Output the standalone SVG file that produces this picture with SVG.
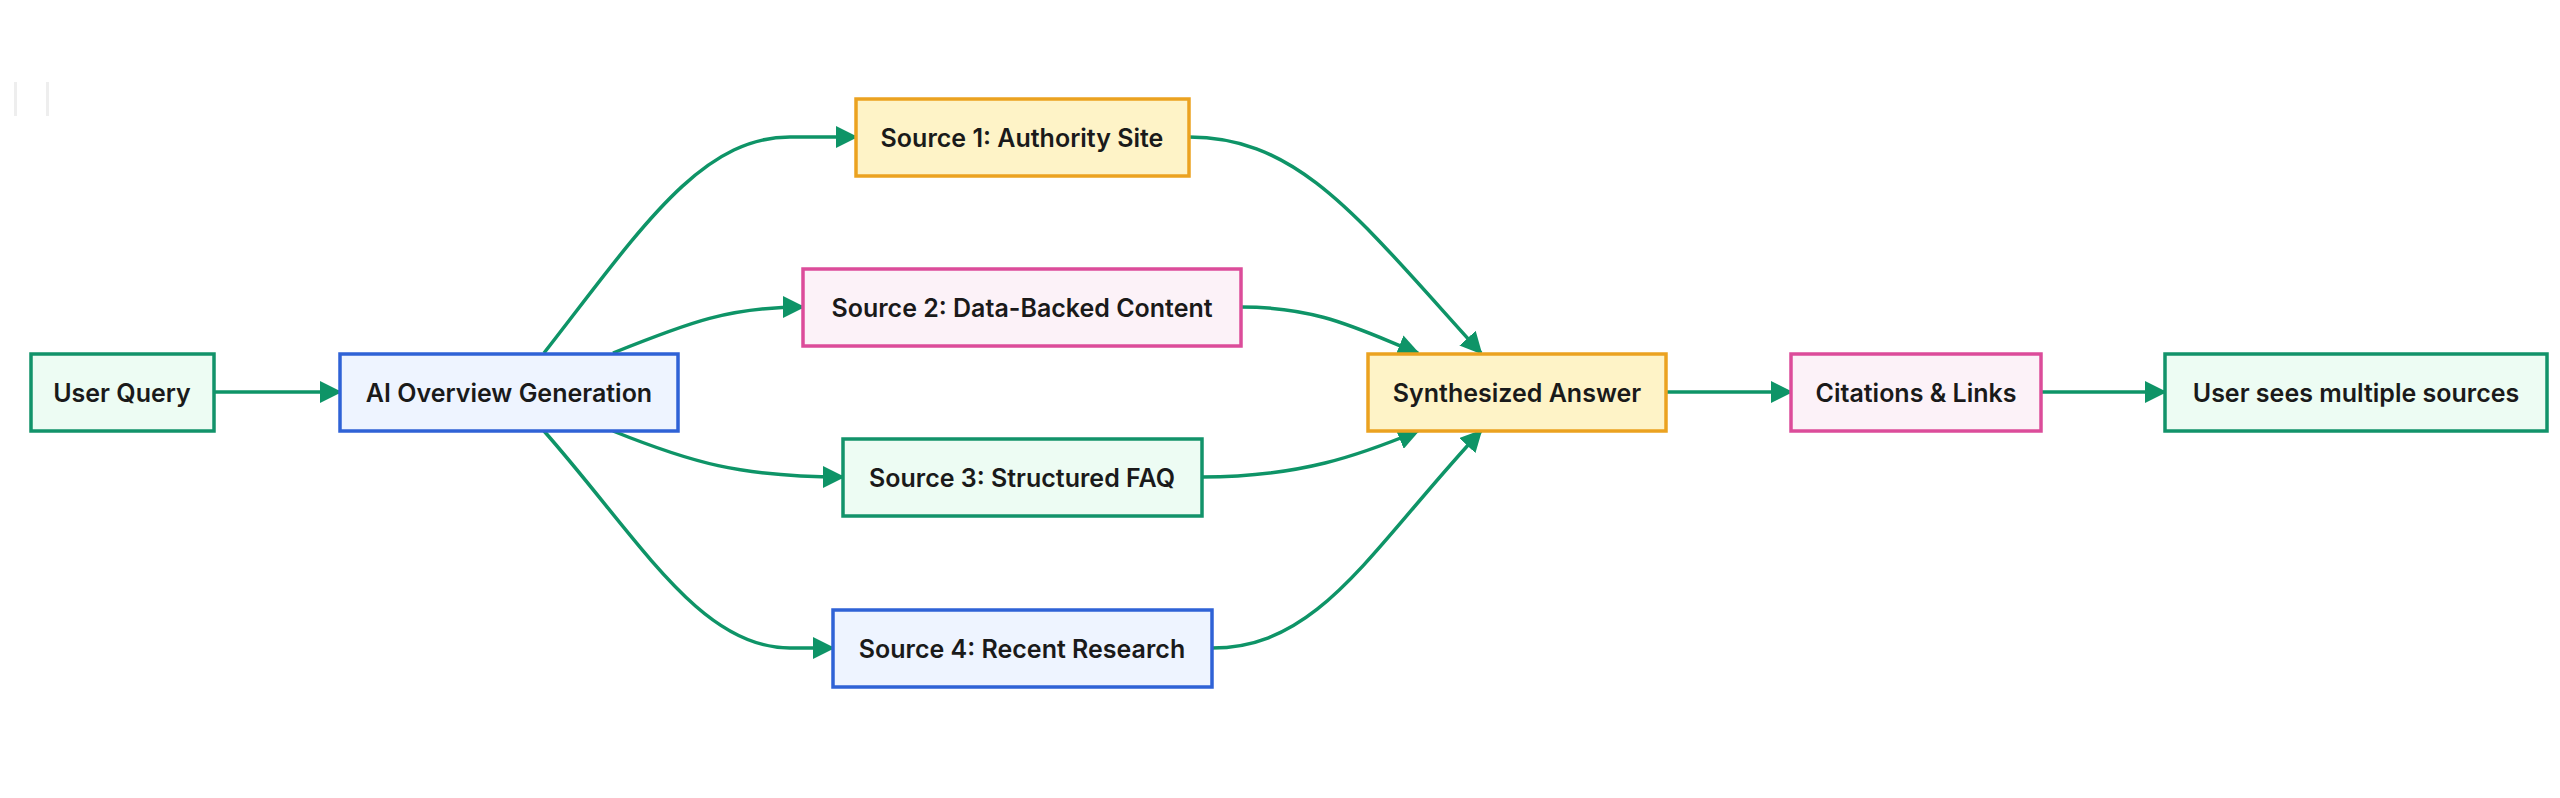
<svg xmlns="http://www.w3.org/2000/svg" width="2560" height="798" viewBox="0 0 2560 798">
<defs>
<marker id="ah" markerUnits="userSpaceOnUse" markerWidth="22" markerHeight="22" viewBox="0 0 22 22" refX="20" refY="11" orient="auto"><path d="M0,0 L22,11 L0,22 z" fill="#0e9467"/></marker>
<style>
.n rect{stroke-width:3.5}
.g rect{fill:#edfcf3;stroke:#12936a}
.b rect{fill:#eef4ff;stroke:#2f62d6}
.y rect{fill:#fef3c7;stroke:#eba220}
.p rect{fill:#fcf2f8;stroke:#dc4c9a}
.n text{font-family:Inter,"Liberation Sans",sans-serif;font-size:25px;font-weight:600;fill:#1a1a1a;text-anchor:middle;dominant-baseline:central}
#edges path{fill:none;stroke:#0e9467;stroke-width:3.5;marker-end:url(#ah)}
</style>
</defs>
<rect width="2560" height="798" fill="#fff"/>
<rect x="14" y="82" width="3" height="34" fill="#eeeeee"/>
<rect x="46" y="82" width="3" height="34" fill="#eeeeee"/>
<g id="edges">
<path d="M214,392 L340,392"/>
<path d="M544,353 C640,230 700,137 790,137 L856,137"/>
<path d="M613,353 C690,322 730,307 803,307"/>
<path d="M613,431 C690,462 740,477 843,477"/>
<path d="M544,431 C640,540 700,648 790,648 L833,648"/>
<path d="M1189,137 C1300,137 1360,220 1481,353"/>
<path d="M1241,307 C1320,307 1360,330 1418,353"/>
<path d="M1202,477 C1300,477 1360,455 1418,431"/>
<path d="M1212,648 C1320,648 1370,550 1481,431"/>
<path d="M1666,392 L1791,392"/>
<path d="M2041,392 L2165,392"/>
</g>
<g id="uq" class="n g"><rect x="31" y="354" width="183" height="77"/><text x="122" y="393">User Query</text></g>
<g id="ai" class="n b"><rect x="340" y="354" width="338" height="77"/><text x="509" y="393">AI Overview Generation</text></g>
<g id="s1" class="n y"><rect x="856" y="99" width="333" height="77"/><text x="1022" y="138">Source 1: Authority Site</text></g>
<g id="s2" class="n p"><rect x="803" y="269" width="438" height="77"/><text x="1022" y="308">Source 2: Data-Backed Content</text></g>
<g id="s3" class="n g"><rect x="843" y="439" width="359" height="77"/><text x="1022" y="478">Source 3: Structured FAQ</text></g>
<g id="s4" class="n b"><rect x="833" y="610" width="379" height="77"/><text x="1022" y="649">Source 4: Recent Research</text></g>
<g id="syn" class="n y"><rect x="1368" y="354" width="298" height="77"/><text x="1517" y="393">Synthesized Answer</text></g>
<g id="cit" class="n p"><rect x="1791" y="354" width="250" height="77"/><text x="1916" y="393">Citations &amp; Links</text></g>
<g id="us" class="n g"><rect x="2165" y="354" width="382" height="77"/><text x="2356" y="393">User sees multiple sources</text></g>
</svg>
